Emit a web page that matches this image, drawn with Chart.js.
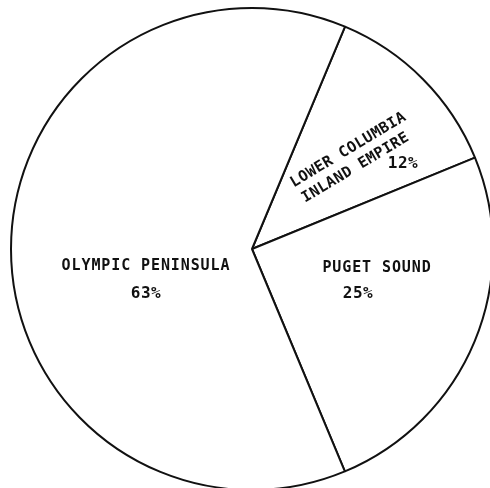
<!DOCTYPE html>
<html>
<head>
<meta charset="utf-8">
<script src="https://cdn.jsdelivr.net/npm/chart.js@4"></script>
<style>
	html, body { margin: 0; padding: 0; background: #fff; overflow: hidden; }
	#wrap { position: absolute; left: 0; top: 0; }
</style>
</head>
<body>
<div id="wrap"><canvas id="regionPie" width="504" height="498"></canvas></div>
<script>

// Regions, clockwise from the top-right slice
var regions = ["LOWER COLUMBIA\nINLAND EMPIRE", "PUGET SOUND", "OLYMPIC PENINSULA"];
var shares = [12.5, 24.9, 62.6];
var shareLabels = ["12%", "25%", "63%"];

// label placement, offsets from the pie centre
var nameSpots = [[100, -90], [125, 19], [-106, 17]];
var nameAngles = [-31, 0, 0];
var pctSpots = [[151, -85], [106, 45], [-106, 45]];

var labelPlugin = {
	id: "sliceLabels",
	afterDatasetsDraw: function(chart){
		var ctx = chart.ctx;
		var arc = chart.getDatasetMeta(0).data[0];
		var cx = arc.x, cy = arc.y;
		ctx.save();
		ctx.fillStyle = "#111";
		ctx.textAlign = "center";
		ctx.textBaseline = "middle";
		for (var i = 0; i < regions.length; i++) {
			var lines = regions[i].split("\n");
			ctx.font = "bold 15px 'DejaVu Sans Mono'";
			ctx.letterSpacing = lines.length > 1 ? "0.4px" : "0.9px";
			ctx.save();
			ctx.translate(cx + nameSpots[i][0], cy + nameSpots[i][1]);
			ctx.rotate(nameAngles[i] * Math.PI / 180);
			for (var j = 0; j < lines.length; j++) {
				var off = (j - (lines.length - 1) / 2) * 19;
				ctx.fillText(lines[j], lines.length > 1 ? j * -3 + 1.5 : 0, off);
			};
			ctx.restore();
			ctx.font = "bold 16px 'DejaVu Sans Mono'";
			ctx.letterSpacing = "0.5px";
			ctx.fillText(shareLabels[i], cx + pctSpots[i][0], cy + pctSpots[i][1]);
		};
		ctx.restore();
	}
};

var ctx = document.getElementById("regionPie");
var regionChart = new Chart(ctx, {
	type: "pie",
	data: {
		labels: regions,
		datasets: [{
			data: shares,
			backgroundColor: "#ffffff",
			borderColor: "#111111",
			borderWidth: 2,
			borderAlign: "center"
		}]
	},
	options: {
		responsive: false,
		animation: false,
		rotation: 22.7,
		layout: { padding: { left: 10, right: 10, top: 7, bottom: 7 } },
		plugins: {
			legend: { display: false },
			tooltip: { enabled: false }
		}
	},
	plugins: [labelPlugin]
});
</script>
</body>
</html>
